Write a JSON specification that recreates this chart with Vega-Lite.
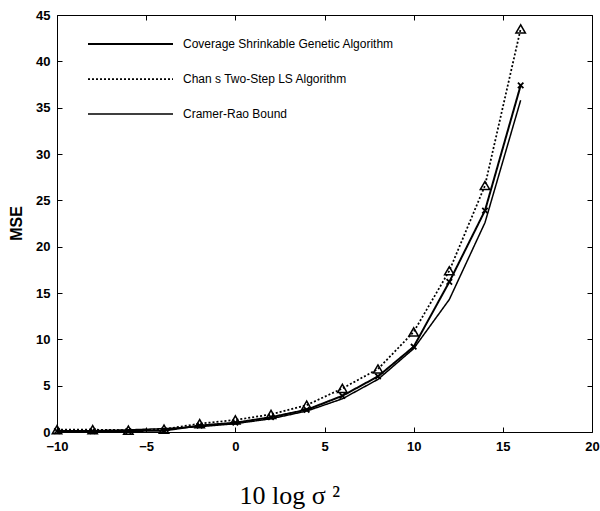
{
  "$schema": "https://vega.github.io/schema/vega-lite/v6.json",
  "width": 535,
  "height": 417,
  "autosize": "none",
  "padding": {"left": 57, "top": 15, "right": 8, "bottom": 79},
  "background": "white",
  "config": {
    "view": {"stroke": "black", "strokeWidth": 1},
    "axis": {
      "domainColor": "black",
      "tickColor": "black",
      "labelColor": "black",
      "titleColor": "black",
      "labelFont": "Liberation Sans",
      "labelFontSize": 13,
      "labelFontWeight": "bold",
      "labelFlush": false,
      "labelOverlap": false
    }
  },
  "data": {
    "values": [
      {"x": -10, "mse": 0.1, "series": "Coverage Shrinkable Genetic Algorithm"},
      {"x": -8, "mse": 0.1, "series": "Coverage Shrinkable Genetic Algorithm"},
      {"x": -6, "mse": 0.1, "series": "Coverage Shrinkable Genetic Algorithm"},
      {"x": -4, "mse": 0.15, "series": "Coverage Shrinkable Genetic Algorithm"},
      {"x": -2, "mse": 0.7, "series": "Coverage Shrinkable Genetic Algorithm"},
      {"x": 0, "mse": 1.0, "series": "Coverage Shrinkable Genetic Algorithm"},
      {"x": 2, "mse": 1.6, "series": "Coverage Shrinkable Genetic Algorithm"},
      {"x": 4, "mse": 2.4, "series": "Coverage Shrinkable Genetic Algorithm"},
      {"x": 6, "mse": 3.9, "series": "Coverage Shrinkable Genetic Algorithm"},
      {"x": 8, "mse": 6.0, "series": "Coverage Shrinkable Genetic Algorithm"},
      {"x": 10, "mse": 9.2, "series": "Coverage Shrinkable Genetic Algorithm"},
      {"x": 12, "mse": 16.2, "series": "Coverage Shrinkable Genetic Algorithm"},
      {"x": 14, "mse": 23.9, "series": "Coverage Shrinkable Genetic Algorithm"},
      {"x": 16, "mse": 37.4, "series": "Coverage Shrinkable Genetic Algorithm"},
      {"x": -10, "mse": 0.25, "series": "Chan s Two-Step LS Algorithm"},
      {"x": -8, "mse": 0.25, "series": "Chan s Two-Step LS Algorithm"},
      {"x": -6, "mse": 0.2, "series": "Chan s Two-Step LS Algorithm"},
      {"x": -4, "mse": 0.3, "series": "Chan s Two-Step LS Algorithm"},
      {"x": -2, "mse": 0.9, "series": "Chan s Two-Step LS Algorithm"},
      {"x": 0, "mse": 1.3, "series": "Chan s Two-Step LS Algorithm"},
      {"x": 2, "mse": 1.9, "series": "Chan s Two-Step LS Algorithm"},
      {"x": 4, "mse": 2.9, "series": "Chan s Two-Step LS Algorithm"},
      {"x": 6, "mse": 4.7, "series": "Chan s Two-Step LS Algorithm"},
      {"x": 8, "mse": 6.8, "series": "Chan s Two-Step LS Algorithm"},
      {"x": 10, "mse": 10.8, "series": "Chan s Two-Step LS Algorithm"},
      {"x": 12, "mse": 17.4, "series": "Chan s Two-Step LS Algorithm"},
      {"x": 14, "mse": 26.6, "series": "Chan s Two-Step LS Algorithm"},
      {"x": 16, "mse": 43.5, "series": "Chan s Two-Step LS Algorithm"},
      {"x": -10, "mse": 0.09, "series": "Cramer-Rao Bound"},
      {"x": -8, "mse": 0.14, "series": "Cramer-Rao Bound"},
      {"x": -6, "mse": 0.23, "series": "Cramer-Rao Bound"},
      {"x": -4, "mse": 0.36, "series": "Cramer-Rao Bound"},
      {"x": -2, "mse": 0.57, "series": "Cramer-Rao Bound"},
      {"x": 0, "mse": 0.9, "series": "Cramer-Rao Bound"},
      {"x": 2, "mse": 1.43, "series": "Cramer-Rao Bound"},
      {"x": 4, "mse": 2.26, "series": "Cramer-Rao Bound"},
      {"x": 6, "mse": 3.58, "series": "Cramer-Rao Bound"},
      {"x": 8, "mse": 5.68, "series": "Cramer-Rao Bound"},
      {"x": 10, "mse": 9.0, "series": "Cramer-Rao Bound"},
      {"x": 12, "mse": 14.3, "series": "Cramer-Rao Bound"},
      {"x": 14, "mse": 22.6, "series": "Cramer-Rao Bound"},
      {"x": 16, "mse": 35.8, "series": "Cramer-Rao Bound"}
    ]
  },
  "layer": [
    {
      "mark": {"type": "line", "color": "black"},
      "encoding": {
        "x": {
          "field": "x", "type": "quantitative",
          "scale": {"domain": [-10, 20], "nice": false},
          "axis": {
            "orient": "bottom", "values": [-10, -5, 0, 5, 10, 15, 20],
            "ticks": false, "tickSize": 0, "domain": false,
            "grid": true, "gridColor": "black", "gridOpacity": 1, "gridWidth": 1,
            "gridDash": [5, 407],
            "labelPadding": 8,
            "title": "10 log  σ ²",
            "titleFont": "Liberation Serif", "titleFontSize": 26, "titleFontWeight": "normal",
            "titleAnchor": "start", "titleAlign": "left", "titleBaseline": "alphabetic",
            "titleX": 182, "titleY": 71
          }
        },
        "y": {
          "field": "mse", "type": "quantitative",
          "scale": {"domain": [0, 45], "nice": false},
          "axis": {
            "orient": "left", "values": [0, 5, 10, 15, 20, 25, 30, 35, 40, 45],
            "ticks": false, "tickSize": 0, "domain": false,
            "grid": true, "gridColor": "black", "gridOpacity": 1, "gridWidth": 1,
            "gridDash": [5, 525],
            "labelPadding": 7,
            "title": "MSE",
            "titleFont": "Liberation Sans", "titleFontSize": 16, "titleFontWeight": "bold",
            "titleAngle": -90, "titleAlign": "center", "titleBaseline": "middle",
            "titleX": -41, "titleY": 208
          }
        },
        "strokeDash": {
          "field": "series", "type": "nominal",
          "scale": {
            "domain": ["Coverage Shrinkable Genetic Algorithm", "Chan s Two-Step LS Algorithm", "Cramer-Rao Bound"],
            "range": [[1, 0], [2, 2], [1, 0]]
          },
          "legend": {
            "orient": "none", "legendX": 30, "legendY": 21,
            "title": null, "padding": 0,
            "rowPadding": 19,
            "clipHeight": 16,
            "labelFont": "Liberation Sans", "labelFontSize": 12, "labelColor": "black",
            "labelLimit": 400, "labelOffset": 9,
            "symbolSize": 7225,
            "symbolStrokeWidth": 2,
            "symbolStrokeColor": "black"
          }
        },
        "strokeWidth": {
          "field": "series", "type": "nominal",
          "scale": {
            "domain": ["Coverage Shrinkable Genetic Algorithm", "Chan s Two-Step LS Algorithm", "Cramer-Rao Bound"],
            "range": [2, 1.5, 1.2]
          },
          "legend": null
        }
      }
    },
    {
      "transform": [{"filter": "datum.series === 'Coverage Shrinkable Genetic Algorithm'"}],
      "mark": {"type": "point", "shape": "M-1,-1L1,1M-1,1L1,-1", "filled": false, "color": "black", "size": 30, "strokeWidth": 1.8, "opacity": 1},
      "encoding": {
        "x": {"field": "x", "type": "quantitative"},
        "y": {"field": "mse", "type": "quantitative"}
      }
    },
    {
      "transform": [{"filter": "datum.series === 'Chan s Two-Step LS Algorithm'"}],
      "mark": {"type": "point", "shape": "triangle-up", "filled": false, "color": "black", "size": 90, "strokeWidth": 1.5, "opacity": 1},
      "encoding": {
        "x": {"field": "x", "type": "quantitative"},
        "y": {"field": "mse", "type": "quantitative"}
      }
    }
  ]
}
